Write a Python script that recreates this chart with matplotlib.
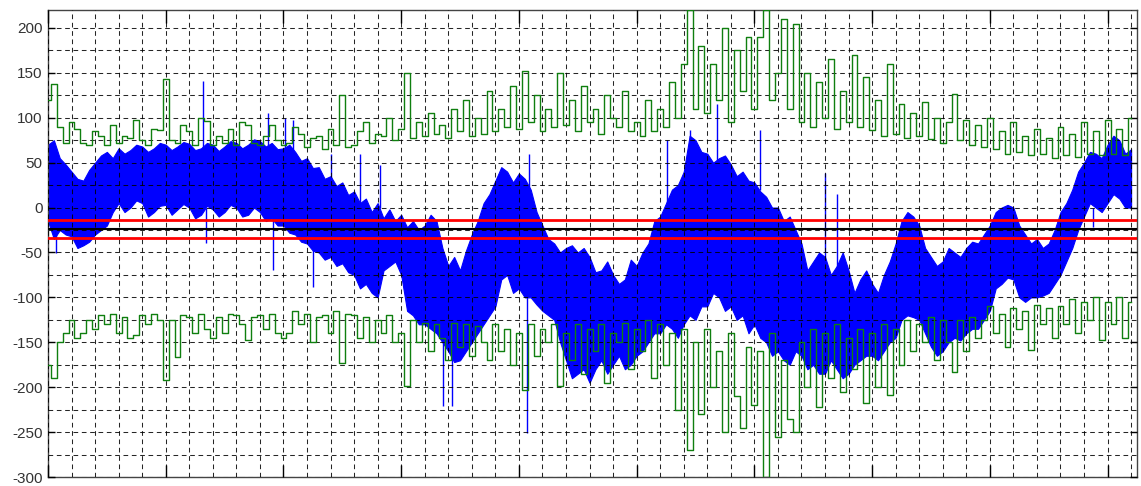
import numpy as np
import matplotlib.pyplot as plt

# blue signal envelope, read every 50 samples
blue_hi = [70, 75, 55, 48, 40, 32, 30, 42, 50, 58,
           62, 55, 66, 60, 64, 70, 68, 62, 66, 72,
           70, 64, 68, 73, 71, 64, 66, 72, 70, 63,
           68, 74, 72, 66, 70, 76, 74, 68, 72, 65,
           66, 70, 62, 52, 55, 44, 45, 32, 35, 24,
           28, 14, 18, 5, 10, -5, 5, -12, -2, -15,
           -8, -22, -15, -25, -20, -8, -15, -45, -65, -55,
           -70, -48, -30, -15, 5, 15, 30, 45, 40, 28,
           38, 32, 20, -5, -20, -35, -40, -50, -45, -42,
           -50, -45, -55, -72, -70, -60, -75, -85, -80, -58,
           -65, -50, -40, -15, -10, 5, 20, 25, 40, 80,
           75, 62, 60, 50, 55, 58, 48, 35, 40, 30,
           28, 18, 12, 0, 0, -15, -10, -25, -40, -70,
           -60, -50, -55, -75, -65, -50, -70, -95, -80, -70,
           -85, -95, -75, -60, -40, -15, -5, -10, -20, -45,
           -55, -65, -60, -45, -50, -55, -45, -38, -40, -30,
           -20, -5, 0, 3, 0, -20, -30, -40, -35, -45,
           -40, -25, -5, 5, 20, 40, 50, 62, 60, 55,
           70, 80, 75, 60, 65]
blue_lo = [-15, -35, -25, -30, -32, -45, -42, -38, -30, -25,
           -20, -5, 5, -5, 0, 8, 5, -10, -5, 2,
           3, -8, -2, 4, 0, -12, -8, 2, -2, -10,
           -5, 3, 0, -10, -8, 0, -5, -15, -12, -20,
           -20, -28, -30, -38, -40, -48, -50, -58, -55, -65,
           -62, -72, -75, -90, -85, -95, -100, -70, -65, -60,
           -75, -115, -120, -130, -130, -135, -140, -150, -160, -172,
           -170, -160, -150, -140, -130, -120, -110, -80, -75, -95,
           -90, -100, -100, -108, -115, -120, -125, -150, -170, -190,
           -185, -180, -195, -180, -170, -185, -175, -165, -180, -175,
           -165, -160, -150, -140, -140, -130, -135, -145, -130, -120,
           -125, -110, -110, -95, -100, -115, -110, -125, -120, -140,
           -130, -145, -150, -165, -160, -170, -175, -160, -165, -180,
           -175, -185, -185, -170, -180, -190, -185, -175, -170, -165,
           -165, -170, -160, -150, -145, -125, -120, -122, -125, -140,
           -155, -165, -160, -150, -145, -148, -140, -135, -135, -125,
           -115, -90, -85, -78, -80, -100, -105, -100, -100, -98,
           -95, -85, -75, -60, -45, -25, -10, 5, 0, -5,
           5, 15, 10, 0, 0]

# single blue outliers
spike_x = [68, 1317, 1342, 1870, 1911, 2010, 2081, 2251, 2404, 2650,
           2820, 3355, 3432, 4069, 4086, 5258, 5453, 5683, 6048, 6600,
           6702, 8876]
spike_base = [-20, 40, 0, 40, -10, 40, 40, -40, 20, 0,
              0, -130, -150, -80, 20, 0, 60, 40, 20, -60,
              -70, 0]
spike_tip = [-51, 141, -40, 105, -70, 100, 97, -88, 60, 60,
             47, -221, -221, -251, 60, 75, 86, 115, 86, 38,
             15, -22]

# green bounds, read every 50 samples
green_up = [120, 138, 90, 72, 95, 88, 72, 70, 85, 80,
            70, 92, 72, 80, 78, 98, 75, 70, 88, 86,
            143, 75, 72, 92, 85, 70, 100, 96, 70, 80,
            72, 88, 70, 95, 92, 72, 70, 80, 92, 75,
            70, 72, 90, 82, 68, 78, 80, 65, 88, 70,
            125, 68, 70, 85, 95, 72, 82, 80, 100, 75,
            88, 150, 78, 95, 80, 105, 82, 92, 78, 110,
            85, 120, 80, 100, 82, 130, 85, 110, 90, 135,
            88, 152, 95, 125, 85, 110, 90, 150, 92, 120,
            85, 135, 95, 110, 82, 125, 100, 90, 130, 85,
            95, 80, 120, 85, 110, 90, 140, 100, 160, 220,
            110, 180, 105, 160, 120, 200, 95, 175, 130, 190,
            110, 190, 220, 120, 150, 210, 110, 204, 95, 150,
            90, 140, 100, 165, 88, 130, 95, 170, 90, 145,
            86, 120, 80, 160, 82, 115, 78, 105, 80, 118,
            76, 100, 72, 95, 127, 75, 98, 70, 92, 68,
            100, 65, 85, 60, 95, 62, 80, 58, 88, 60,
            78, 55, 90, 58, 82, 56, 95, 60, 85, 58,
            97, 60, 88, 58, 100]
green_dn = [-175, -190, -150, -140, -125, -145, -140, -125, -135, -120,
            -130, -118, -140, -122, -145, -142, -120, -130, -118, -125,
            -192, -125, -166, -120, -122, -140, -118, -135, -145, -122,
            -140, -118, -120, -130, -148, -122, -120, -135, -118, -140,
            -145, -140, -115, -130, -118, -150, -122, -120, -140, -115,
            -173, -118, -120, -145, -122, -150, -125, -140, -120, -150,
            -140, -199, -125, -150, -128, -160, -130, -145, -170, -128,
            -155, -130, -165, -132, -150, -170, -130, -160, -135, -175,
            -140, -203, -130, -165, -135, -150, -130, -199, -140, -170,
            -130, -185, -135, -160, -130, -195, -140, -150, -128, -180,
            -135, -160, -125, -190, -130, -175, -140, -225, -135, -270,
            -150, -230, -135, -200, -160, -250, -140, -210, -245, -155,
            -220, -160, -300, -140, -255, -170, -235, -250, -150, -200,
            -135, -222, -140, -190, -130, -205, -145, -180, -135, -218,
            -140, -200, -130, -209, -135, -175, -125, -160, -130, -150,
            -122, -170, -125, -150, -183, -125, -160, -122, -145, -125,
            -110, -140, -118, -155, -112, -135, -115, -159, -108, -130,
            -112, -145, -110, -130, -102, -140, -105, -125, -100, -147,
            -105, -130, -100, -145, -105]

ref_mid = -24
ref_lim = [-14, -34]

x_blue = np.arange(len(blue_hi)) * 50
x_green = np.arange(len(green_up)) * 50

plt.rcParams['font.family'] = ['Liberation Sans', 'DejaVu Sans']
plt.rcParams['axes.unicode_minus'] = False

fig = plt.figure(figsize=(11.41, 4.86), dpi=100)
ax = fig.add_axes([48 / 1141, 9 / 486, 1089 / 1141, 467 / 486])

ax.fill_between(x_blue, blue_lo, blue_hi, color='#0000ff', lw=0.8, zorder=2)
ax.vlines(spike_x, spike_base, spike_tip, color='#0000ff', lw=1, zorder=2)

ax.step(x_green, green_up, where='mid', color='#0f7f0f', lw=1.0, zorder=3)
ax.step(x_green, green_dn, where='mid', color='#0f7f0f', lw=1.0, zorder=3)

for y in ref_lim:
    ax.axhline(y, color='#ff0000', lw=2, zorder=5)
ax.axhline(ref_mid, color='black', lw=1.5, zorder=5)

ax.set_xlim(0, 9250)
ax.set_ylim(-300, 220)
ax.set_xticks(np.arange(0, 9250, 1000))
ax.set_xticks(np.arange(0, 9250, 200), minor=True)
ax.set_yticks(np.arange(-300, 201, 50))
ax.set_yticks(np.arange(-300, 220, 25), minor=True)

ax.set_axisbelow(False)
ax.grid(which='both', color='black', lw=0.75, linestyle=(0, (4.5, 3.5)), alpha=0.85)

ax.tick_params(axis='x', which='major', direction='in', top=True, bottom=True,
               length=9, width=1, labelbottom=False)
ax.tick_params(axis='y', which='major', direction='in', left=True, right=True,
               length=5, width=1, labelsize=11, labelcolor='#333333', pad=4)
ax.tick_params(which='minor', length=0)

for s in ax.spines.values():
    s.set_color('#444444')
    s.set_linewidth(1)

fig.savefig('out.png', dpi=100)
